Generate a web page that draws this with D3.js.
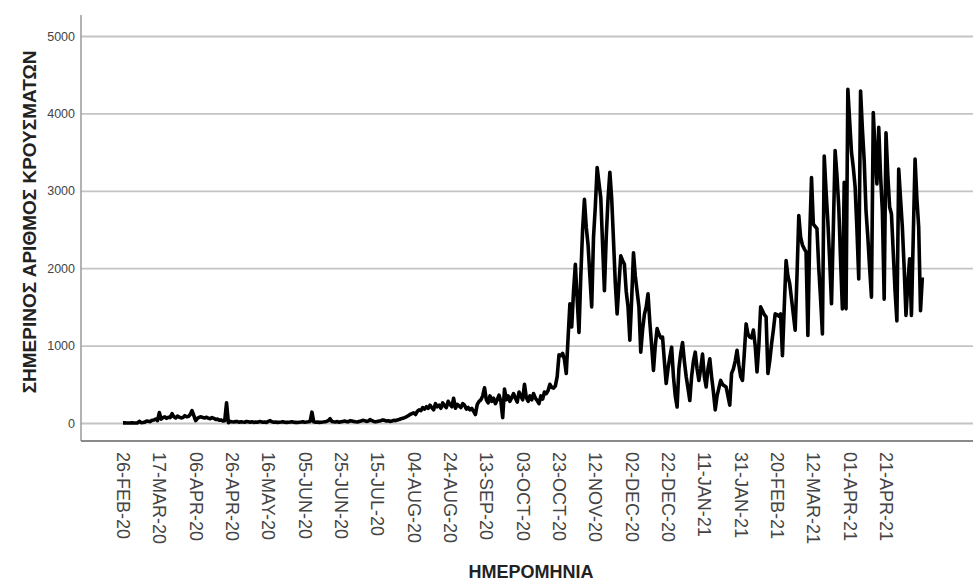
<!DOCTYPE html>
<html>
<head>
<meta charset="utf-8">
<script src="https://cdn.jsdelivr.net/npm/d3@7/dist/d3.min.js"></script>
<style>
  html, body { margin: 0; padding: 0; background: #ffffff; }
  svg { display: block; font-family: Arial, "Liberation Sans", Helvetica, sans-serif; }
</style>
</head>
<body>
<svg id="chart" width="973" height="583"></svg>
<script>
// Daily new cases, one value per day starting 26 Feb 2020
const startDate = "26-FEB-20";
const dailyCases = [
  1, 2, 0, 0, 0, 4, 0, 0, 2, 22,
  4, 7, 11, 25, 22, 18, 35, 38, 52, 31,
  135, 50, 70, 80, 60, 75, 70, 120, 80, 65,
  90, 75, 65, 70, 95, 80, 85, 110, 160, 95,
  30, 60, 75, 80, 70, 65, 75, 60, 55, 70,
  60, 45, 50, 35, 40, 25, 30, 260, 5, 20,
  15, 12, 20, 18, 10, 15, 12, 10, 20, 15,
  10, 15, 8, 12, 10, 18, 15, 10, 12, 8,
  20, 30, 15, 10, 12, 8, 10, 12, 15, 10,
  8, 10, 12, 15, 10, 8, 6, 10, 12, 15,
  10, 12, 15, 20, 140, 15, 10, 12, 8, 10,
  12, 15, 20, 30, 55, 20, 15, 12, 18, 10,
  15, 20, 25, 18, 15, 30, 25, 20, 15, 12,
  20, 25, 35, 30, 20, 25, 45, 30, 20, 15,
  20, 25, 30, 40, 35, 25, 30, 20, 25, 35,
  30, 40, 45, 55, 60, 70, 80, 95, 110, 120,
  130, 110, 150, 170, 160, 200, 180, 210, 190, 230,
  200, 170, 250, 210, 230, 190, 260, 220, 200, 280,
  240, 210, 320, 190, 240, 220, 200, 250, 230, 180,
  200, 170, 190, 150, 110, 240, 280, 300, 350, 455,
  300, 260, 350, 280, 320, 250, 300, 360, 280, 70,
  440, 300, 350, 280, 330, 380, 320, 270, 400, 350,
  300, 500, 330, 280, 350, 300, 380, 320, 290, 250,
  350, 310, 400, 380, 420, 500, 460, 450, 480, 600,
  880, 870, 900, 820, 640, 1100, 1540, 1240, 1700, 2050,
  1600, 1170, 1900, 2500, 2890, 2530, 2300, 1900, 1500, 2400,
  2800, 3300, 3100, 2910, 2300, 1710, 2400, 2900, 3240, 2900,
  2360, 1800, 1410, 1800, 2160, 2100, 2050, 1700, 1500, 1070,
  1600, 2200, 1900, 1700, 1500, 915, 1200, 1400, 1500, 1670,
  1300, 1000, 680, 1000, 1220, 1150, 1100, 1110, 800, 510,
  700, 850, 980, 600, 350, 206, 700, 900, 1040, 800,
  600, 450, 290, 600, 800, 915, 700, 550, 700, 890,
  600, 465, 700, 830, 600, 400, 170, 350, 450, 550,
  500, 480, 465, 350, 230, 640, 700, 800, 940, 750,
  600, 550, 900, 1280, 1150, 1110, 1100, 1200, 1000, 660,
  1000, 1500, 1450, 1400, 1370, 640, 800, 1020, 1200, 1410,
  1400, 1380, 1410, 870, 1500, 2100, 1900, 1800, 1600, 1400,
  1200, 1900, 2680, 2400, 2300, 2250, 2210, 1130, 2400, 3170,
  2570, 2540, 2510, 2000, 1600, 1150, 3450, 3000, 2600, 2100,
  1540, 2500, 3520, 3200, 2790, 2100, 1475, 3110, 1475, 4310,
  3900, 3500, 3300, 3050, 2500, 1860, 4290, 3800, 3390, 2740,
  2400, 2000, 1625, 4010, 3500, 3090, 3820, 3200, 2740, 1600,
  3750, 3200, 2790, 2700, 2200, 1700, 1320, 3280, 2900, 2530,
  2000, 1390, 1800, 2120, 1390, 2400, 3410, 2900, 2530, 1450, 1880
];

// Date tick labels on the horizontal axis
const xTickLabels = [
  "26-FEB-20", "17-MAR-20", "06-APR-20", "26-APR-20", "16-MAY-20", "05-JUN-20",
  "25-JUN-20", "15-JUL-20", "04-AUG-20", "24-AUG-20", "13-SEP-20", "03-OCT-20",
  "23-OCT-20", "12-NOV-20", "02-DEC-20", "22-DEC-20", "11-JAN-21", "31-JAN-21",
  "20-FEB-21", "12-MAR-21", "01-APR-21", "21-APR-21"
];

// Value ticks on the vertical axis
const yTickValues = [0, 1000, 2000, 3000, 4000, 5000];

const yTitle = "ΣΗΜΕΡΙΝΟΣ ΑΡΙΘΜΟΣ ΚΡΟΥΣΜΑΤΩΝ";
const xTitle = "ΗΜΕΡΟΜΗΝΙΑ";

const parseDay = d3.timeParse("%d-%b-%y");
const day0 = parseDay(startDate);
const series = dailyCases.map((v, i) => ({ date: d3.timeDay.offset(day0, i), value: v }));
const tickDates = xTickLabels.map(parseDay);

const svg = d3.select("#chart");
const W = 973;
const frame = { left: 81, top: 15, bottom: 441, right: W };

const x = d3.scaleTime()
  .domain([tickDates[0], tickDates[tickDates.length - 1]])
  .range([123, 886]);

const y = d3.scaleLinear()
  .domain([0, 5000])
  .range([423, 36]);

svg.append("rect").attr("width", W).attr("height", 583).attr("fill", "#ffffff");

// Horizontal gridlines with value labels
const yAxis = d3.axisLeft(y)
  .tickValues(yTickValues)
  .tickSize(-(frame.right - frame.left))
  .tickPadding(6)
  .tickFormat(d3.format("d"));

const gy = svg.append("g")
  .attr("transform", `translate(${frame.left},0)`)
  .call(yAxis);
gy.select(".domain").remove();
gy.selectAll(".tick line").attr("stroke", "#c4c4c4").attr("stroke-width", 1.8);
gy.selectAll(".tick text")
  .attr("fill", "#444")
  .attr("font-size", 12.5)
  .attr("x", -6);

// Frame lines
svg.append("line")
  .attr("x1", frame.left).attr("x2", frame.left)
  .attr("y1", frame.top).attr("y2", frame.bottom)
  .attr("stroke", "#9a9a9a").attr("stroke-width", 1.5);
svg.append("line")
  .attr("x1", frame.left).attr("x2", frame.right)
  .attr("y1", frame.bottom).attr("y2", frame.bottom)
  .attr("stroke", "#8a8a8a").attr("stroke-width", 2);

// Date labels, rotated to read downward
const xAxis = d3.axisBottom(x)
  .tickValues(tickDates)
  .tickSize(0)
  .tickFormat((d, i) => xTickLabels[i]);

const gx = svg.append("g")
  .attr("transform", `translate(0,${frame.bottom})`)
  .call(xAxis);
gx.select(".domain").remove();
gx.selectAll(".tick text")
  .attr("fill", "#444")
  .attr("font-size", 18)
  .attr("text-anchor", "start")
  .attr("transform", "rotate(90)")
  .attr("x", 11)
  .attr("y", 0)
  .attr("dy", "0.36em");

// Daily cases line
const line = d3.line()
  .x(d => x(d.date))
  .y(d => y(d.value));

svg.append("path")
  .datum(series)
  .attr("fill", "none")
  .attr("stroke", "#000")
  .attr("stroke-width", 3.6)
  .attr("stroke-linejoin", "round")
  .attr("d", line);

// Axis titles
svg.append("text")
  .attr("transform", "translate(29,222) rotate(-90)")
  .attr("text-anchor", "middle")
  .attr("dy", "0.36em")
  .attr("font-size", 19)
  .attr("font-weight", "bold")
  .attr("fill", "#222")
  .text(yTitle);

svg.append("text")
  .attr("x", 531)
  .attr("y", 572)
  .attr("text-anchor", "middle")
  .attr("dy", "0.36em")
  .attr("font-size", 18)
  .attr("font-weight", "bold")
  .attr("fill", "#222")
  .text(xTitle);
</script>
</body>
</html>
